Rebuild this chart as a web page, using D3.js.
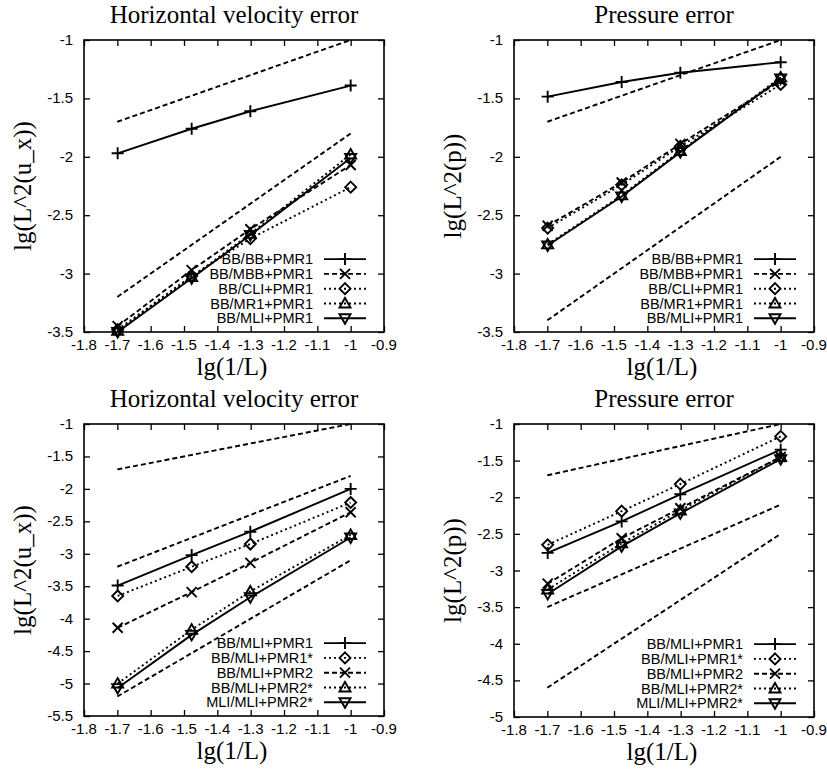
<!DOCTYPE html>
<html>
<head>
<meta charset="utf-8">
<script src="https://cdn.jsdelivr.net/npm/d3@7"></script>
<style>
  body { margin: 0; background: #fff; }
  svg { display: block; }
  .tickLabel { font-family: "Liberation Sans", Arial, sans-serif; font-size: 15px; fill: #000; }
  .legendText { font-family: "Liberation Sans", Arial, sans-serif; font-size: 14.5px; fill: #000; }
  .title, .axisLabel { font-family: "Liberation Serif", "Times New Roman", serif; font-size: 25px; fill: #000; }
</style>
</head>
<body>
<div id="chart"></div>
<script>
// data
var X_TICKS = [-1.8, -1.7, -1.6, -1.5, -1.4, -1.3, -1.2, -1.1, -1, -0.9];
var X_LEVELS = [-1.699, -1.477, -1.301, -1.0]; // lg(1/L) for L = 50, 30, 20, 10
var REF_X = [-1.7, -1.0];

var TOP_NAMES = ['BB/BB+PMR1', 'BB/MBB+PMR1', 'BB/CLI+PMR1', 'BB/MR1+PMR1', 'BB/MLI+PMR1'];
var BOTTOM_NAMES = ['BB/MLI+PMR1', 'BB/MLI+PMR1*', 'BB/MLI+PMR2', 'BB/MLI+PMR2*', 'MLI/MLI+PMR2*'];

var TOP_Y_TICKS = [-3.5, -3, -2.5, -2, -1.5, -1];
var VEL_BOTTOM_Y_TICKS = [-5.5, -5, -4.5, -4, -3.5, -3, -2.5, -2, -1.5, -1];
var PRES_BOTTOM_Y_TICKS = [-5, -4.5, -4, -3.5, -3, -2.5, -2, -1.5, -1];

var VEL_TOP_VALUES = [
  [-1.97, -1.76, -1.61, -1.39],
  [-3.45, -2.97, -2.62, -2.07],
  [-3.48, -3.02, -2.70, -2.26],
  [-3.49, -3.03, -2.66, -1.98],
  [-3.50, -3.04, -2.67, -2.01]
];
var VEL_TOP_REFS = [[-1.7, -1.0], [-3.2, -1.8]];

var PRES_TOP_VALUES = [
  [-1.485, -1.36, -1.28, -1.19],
  [-2.59, -2.22, -1.89, -1.35],
  [-2.61, -2.24, -1.91, -1.38],
  [-2.75, -2.33, -1.95, -1.32],
  [-2.76, -2.34, -1.96, -1.33]
];
var PRES_TOP_REFS = [[-1.7, -1.0], [-3.4, -2.0]];

var VEL_BOTTOM_VALUES = [
  [-3.49, -3.02, -2.66, -2.00],
  [-3.65, -3.20, -2.85, -2.21],
  [-4.14, -3.59, -3.14, -2.36],
  [-5.00, -4.17, -3.58, -2.71],
  [-5.07, -4.25, -3.67, -2.75]
];
var VEL_BOTTOM_REFS = [[-1.7, -1.0], [-3.2, -1.8], [-5.2, -3.1]];

var PRES_BOTTOM_VALUES = [
  [-2.76, -2.33, -1.96, -1.35],
  [-2.65, -2.19, -1.82, -1.17],
  [-3.18, -2.56, -2.15, -1.45],
  [-3.26, -2.63, -2.18, -1.45],
  [-3.32, -2.67, -2.22, -1.48]
];
var PRES_BOTTOM_REFS = [[-1.7, -1.0], [-3.5, -2.1], [-4.6, -2.5]];

// layout and styles
var SVGWIDTH = 827;
var SVGHEIGHT = 769;
var DASHES = {'solid': null, 'dashed': '5,3', 'dotted': '2,3'};
var MARKERS = {
  'plus': 'M-6,0H6M0,-6V6',
  'cross': 'M-5,-5L5,5M-5,5L5,-5',
  'diamond': 'M0,-5.5L5.5,0L0,5.5L-5.5,0Z',
  'triangle': 'M0,-5.5L5.5,4L-5.5,4Z',
  'itriangle': 'M0,5.5L5.5,-4L-5.5,-4Z'
};
var TOP_STYLES = ['solid', 'dashed', 'dotted', 'dotted', 'solid'];
var TOP_MARKERS = ['plus', 'cross', 'diamond', 'triangle', 'itriangle'];
var BOTTOM_STYLES = ['solid', 'dotted', 'dashed', 'dotted', 'solid'];
var BOTTOM_MARKERS = ['plus', 'diamond', 'cross', 'triangle', 'itriangle'];

var PANELS = [
  {'title': 'Horizontal velocity error', 'ylabel': 'lg(L^2(u_x))', 'left': 84, 'top': 40, 'bottom': 332,
   'yTicks': TOP_Y_TICKS, 'values': VEL_TOP_VALUES, 'refs': VEL_TOP_REFS, 'names': TOP_NAMES, 'styles': TOP_STYLES, 'markers': TOP_MARKERS},
  {'title': 'Pressure error', 'ylabel': 'lg(L^2(p))', 'left': 514, 'top': 40, 'bottom': 332,
   'yTicks': TOP_Y_TICKS, 'values': PRES_TOP_VALUES, 'refs': PRES_TOP_REFS, 'names': TOP_NAMES, 'styles': TOP_STYLES, 'markers': TOP_MARKERS},
  {'title': 'Horizontal velocity error', 'ylabel': 'lg(L^2(u_x))', 'left': 84, 'top': 424, 'bottom': 716,
   'yTicks': VEL_BOTTOM_Y_TICKS, 'values': VEL_BOTTOM_VALUES, 'refs': VEL_BOTTOM_REFS, 'names': BOTTOM_NAMES, 'styles': BOTTOM_STYLES, 'markers': BOTTOM_MARKERS},
  {'title': 'Pressure error', 'ylabel': 'lg(L^2(p))', 'left': 514, 'top': 424, 'bottom': 717,
   'yTicks': PRES_BOTTOM_Y_TICKS, 'values': PRES_BOTTOM_VALUES, 'refs': PRES_BOTTOM_REFS, 'names': BOTTOM_NAMES, 'styles': BOTTOM_STYLES, 'markers': BOTTOM_MARKERS}
];
var PLOTWIDTH = 300;
var TICKLEN = 6;
var LINEWIDTH = 1.9;

var d3sSVG = d3.select('#chart').append('svg')
  .attr('width', SVGWIDTH)
  .attr('height', SVGHEIGHT);

function drawPanel(jsonPanel)
{
  var iLeft = jsonPanel['left'];
  var iRight = iLeft + PLOTWIDTH;
  var iTop = jsonPanel['top'];
  var iBottom = jsonPanel['bottom'];
  var aYTicks = jsonPanel['yTicks'];

  var xScale = d3.scaleLinear().domain([-1.8, -0.9]).range([iLeft, iRight]);
  var yScale = d3.scaleLinear().domain([aYTicks[0], aYTicks[aYTicks.length - 1]]).range([iBottom, iTop]);

  var d3sPanel = d3sSVG.append('g').classed('panel', true);

  // ticks on all four sides, pointing inwards (gnuplot style)
  var d3sAxes = d3sPanel.append('g');
  d3sAxes.append('g')
    .attr('transform', 'translate(0,' + iBottom + ')')
    .call(d3.axisBottom(xScale).tickValues(X_TICKS).tickSize(-TICKLEN).tickFormat(''));
  d3sAxes.append('g')
    .attr('transform', 'translate(0,' + iTop + ')')
    .call(d3.axisTop(xScale).tickValues(X_TICKS).tickSize(-TICKLEN).tickFormat(''));
  d3sAxes.append('g')
    .attr('transform', 'translate(' + iLeft + ',0)')
    .call(d3.axisLeft(yScale).tickValues(aYTicks).tickSize(-TICKLEN).tickFormat(''));
  d3sAxes.append('g')
    .attr('transform', 'translate(' + iRight + ',0)')
    .call(d3.axisRight(yScale).tickValues(aYTicks).tickSize(-TICKLEN).tickFormat(''));
  d3sAxes.selectAll('.domain').remove();
  d3sAxes.selectAll('.tick line').attr('stroke', '#000').attr('stroke-width', 1.3);

  d3sPanel.append('rect')
    .attr('x', iLeft)
    .attr('y', iTop)
    .attr('width', iRight - iLeft)
    .attr('height', iBottom - iTop)
    .attr('fill', 'none')
    .attr('stroke', '#000')
    .attr('stroke-width', 1.6);

  // tick labels
  X_TICKS.forEach(function(v)
  {
    d3sPanel.append('text').classed('tickLabel', true)
      .attr('x', xScale(v))
      .attr('y', iBottom + 17.5)
      .attr('text-anchor', 'middle')
      .text(v);
  });
  aYTicks.forEach(function(v)
  {
    d3sPanel.append('text').classed('tickLabel', true)
      .attr('x', iLeft - 11)
      .attr('y', yScale(v) + 5)
      .attr('text-anchor', 'end')
      .text(v);
  });

  // titles
  var fMid = (iLeft + iRight) / 2;
  d3sPanel.append('text').classed('title', true)
    .attr('x', fMid)
    .attr('y', iTop - 17)
    .attr('text-anchor', 'middle')
    .text(jsonPanel['title']);
  d3sPanel.append('text').classed('axisLabel', true)
    .attr('x', fMid - 2)
    .attr('y', iBottom + 43)
    .attr('text-anchor', 'middle')
    .text('lg(1/L)');
  var fYMid = (iTop + iBottom) / 2;
  d3sPanel.append('text').classed('axisLabel', true)
    .attr('transform', 'translate(' + (iLeft - 53) + ',' + fYMid + ') rotate(-90)')
    .attr('text-anchor', 'middle')
    .text(jsonPanel['ylabel']);

  var line = d3.line()
    .x(function(d) { return xScale(d[0]); })
    .y(function(d) { return yScale(d[1]); });

  // reference slopes
  jsonPanel['refs'].forEach(function(aRef)
  {
    d3sPanel.append('path')
      .attr('d', line(REF_X.map(function(x, i) { return [x, aRef[i]]; })))
      .attr('fill', 'none')
      .attr('stroke', '#000')
      .attr('stroke-width', LINEWIDTH)
      .attr('stroke-dasharray', DASHES['dashed']);
  });

  // data series
  jsonPanel['values'].forEach(function(aVals, k)
  {
    var aPts = X_LEVELS.map(function(x, i) { return [x, aVals[i]]; });
    var sDash = DASHES[jsonPanel['styles'][k]];
    var sMarker = MARKERS[jsonPanel['markers'][k]];
    d3sPanel.append('path')
      .attr('d', line(aPts))
      .attr('fill', 'none')
      .attr('stroke', '#000')
      .attr('stroke-width', LINEWIDTH)
      .attr('stroke-dasharray', sDash);
    d3sPanel.selectAll(null)
      .data(aPts)
      .enter()
      .append('path')
      .attr('transform', function(d) { return 'translate(' + xScale(d[0]) + ',' + yScale(d[1]) + ')'; })
      .attr('d', sMarker)
      .attr('fill', 'none')
      .attr('stroke', '#000')
      .attr('stroke-width', 1.9);
  });

  // legend, bottom right inside the frame
  var iRowHeight = 14.8;
  var fFirstRow = iBottom - 13.7 - 4 * iRowHeight;
  var iSampleEnd = iRight - 18;
  var iSampleStart = iSampleEnd - 42;
  var iTextRight = iSampleStart - 11;
  jsonPanel['names'].forEach(function(sName, k)
  {
    var fY = fFirstRow + k * iRowHeight;
    d3sPanel.append('text').classed('legendText', true)
      .attr('x', iTextRight)
      .attr('y', fY + 5)
      .attr('text-anchor', 'end')
      .text(sName);
    d3sPanel.append('line')
      .attr('x1', iSampleStart)
      .attr('x2', iSampleEnd)
      .attr('y1', fY)
      .attr('y2', fY)
      .attr('stroke', '#000')
      .attr('stroke-width', LINEWIDTH)
      .attr('stroke-dasharray', DASHES[jsonPanel['styles'][k]]);
    d3sPanel.append('path')
      .attr('transform', 'translate(' + ((iSampleStart + iSampleEnd) / 2) + ',' + fY + ')')
      .attr('d', MARKERS[jsonPanel['markers'][k]])
      .attr('fill', 'none')
      .attr('stroke', '#000')
      .attr('stroke-width', 1.9);
  });
}

function main()
{
  PANELS.forEach(drawPanel);
}

main();
</script>
</body>
</html>
